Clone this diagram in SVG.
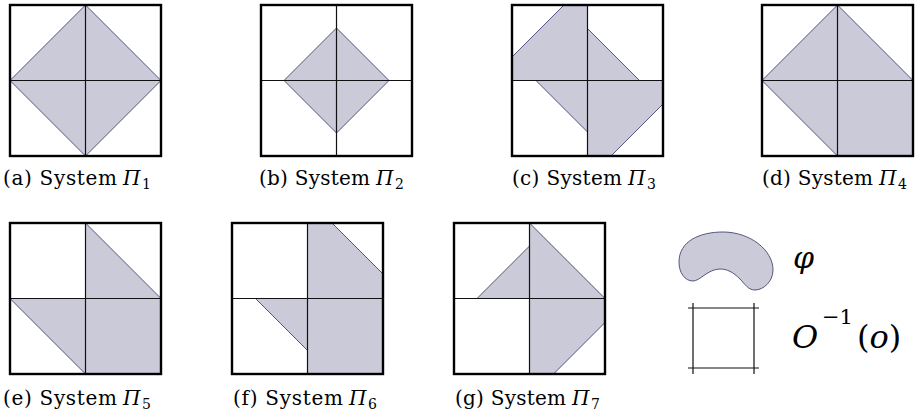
<svg xmlns="http://www.w3.org/2000/svg" xmlns:xlink="http://www.w3.org/1999/xlink" width="920" height="418" viewBox="0 0 920 418">
<style>
.sq{fill:none;stroke:#000;stroke-width:2.4}
.grid{fill:none;stroke:#111;stroke-width:1.2}
.sh{fill:#cbcad9;stroke:#55557f;stroke-width:1;stroke-linejoin:round}
text{font-family:'DejaVu Serif',serif;fill:#000}
.cap{font-size:20px}
.it{font-style:italic}
.sub{font-size:14px}
</style>
<defs>
<g id="frame">
<path class="grid" d="M75.5 0V151M0 75.5H151"/>
<rect class="sq" x="0" y="0" width="151" height="151"/>
</g>
</defs>
<g id="panel-a">
<g transform="translate(10,5)">
<polygon class="sh" points="75.5,0 151,75.5 75.5,151 0,75.5"/>
<use xlink:href="#frame"/>
</g>
<text class="cap" x="3" y="185" textLength="114">(a) System</text>
<text class="it" x="123" y="185" font-size="20">Π</text><text class="sub" x="142" y="189">1</text>
</g>
<g id="panel-b">
<g transform="translate(261,5)">
<polygon class="sh" points="75.5,23 128,75.5 75.5,128 23,75.5"/>
<use xlink:href="#frame"/>
</g>
<text class="cap" x="259" y="185" textLength="111">(b) System</text>
<text class="it" x="376" y="185" font-size="20">Π</text><text class="sub" x="395" y="189">2</text>
</g>
<g id="panel-c">
<g transform="translate(512,5)">
<polygon class="sh" points="0,52 52,0 75.5,0 75.5,75.5 0,75.5"/>
<polygon class="sh" points="24,75.5 75.5,127 75.5,75.5"/>
<polygon class="sh" points="75.5,23.5 127.5,75.5 75.5,75.5"/>
<polygon class="sh" points="75.5,75.5 151,75.5 151,99 99,151 75.5,151"/>
<use xlink:href="#frame"/>
</g>
<text class="cap" x="512" y="185" textLength="110">(c) System</text>
<text class="it" x="628" y="185" font-size="20">Π</text><text class="sub" x="647" y="189">3</text>
</g>
<g id="panel-d">
<g transform="translate(762,5)">
<polygon class="sh" points="75.5,0 151,75.5 151,151 75.5,151 0,75.5"/>
<use xlink:href="#frame"/>
</g>
<text class="cap" x="762" y="185" textLength="111">(d) System</text>
<text class="it" x="879" y="185" font-size="20">Π</text><text class="sub" x="898" y="189">4</text>
</g>
<g id="panel-e">
<g transform="translate(10,223)">
<polygon class="sh" points="75.5,0 151,75.5 151,151 75.5,151 0,75.5 75.5,75.5"/>
<use xlink:href="#frame"/>
</g>
<text class="cap" x="3" y="405" textLength="114">(e) System</text>
<text class="it" x="123" y="405" font-size="20">Π</text><text class="sub" x="142" y="409">5</text>
</g>
<g id="panel-f">
<g transform="translate(232,223)">
<polygon class="sh" points="75.5,0 100,0 151,51 151,151 75.5,151 75.5,127.5 23.5,75.5 75.5,75.5"/>
<use xlink:href="#frame"/>
</g>
<text class="cap" x="233" y="405" textLength="110">(f) System</text>
<text class="it" x="349" y="405" font-size="20">Π</text><text class="sub" x="368" y="409">6</text>
</g>
<g id="panel-g">
<g transform="translate(454,223)">
<polygon class="sh" points="23,75.5 75.5,23 75.5,0 151,75.5 151,99.5 99.5,151 75.5,151 75.5,75.5"/>
<use xlink:href="#frame"/>
</g>
<text class="cap" x="455" y="405" textLength="111">(g) System</text>
<text class="it" x="572" y="405" font-size="20">Π</text><text class="sub" x="591" y="409">7</text>
</g>
<g id="legend">
<path class="sh" d="M679 262C679 241 700 232 723 232C750 232 773 250 773 270C773 282 763 290 755 290C748 290 745 284 740 279C733 272 727 269 720 269C708 269 700 281 693 281C685 281 679 273 679 262Z"/>
<text class="it" x="793" y="268" font-size="30">φ</text>
<path class="grid" d="M688 308H759M688 368H759M693 303V374M754 303V374"/>
<text class="it" x="792" y="348" font-size="32">O</text>
<text x="822" y="324" font-size="21">−1</text>
<text x="857" y="348" font-size="32">(<tspan font-style="italic">o</tspan>)</text>
</g>
</svg>
